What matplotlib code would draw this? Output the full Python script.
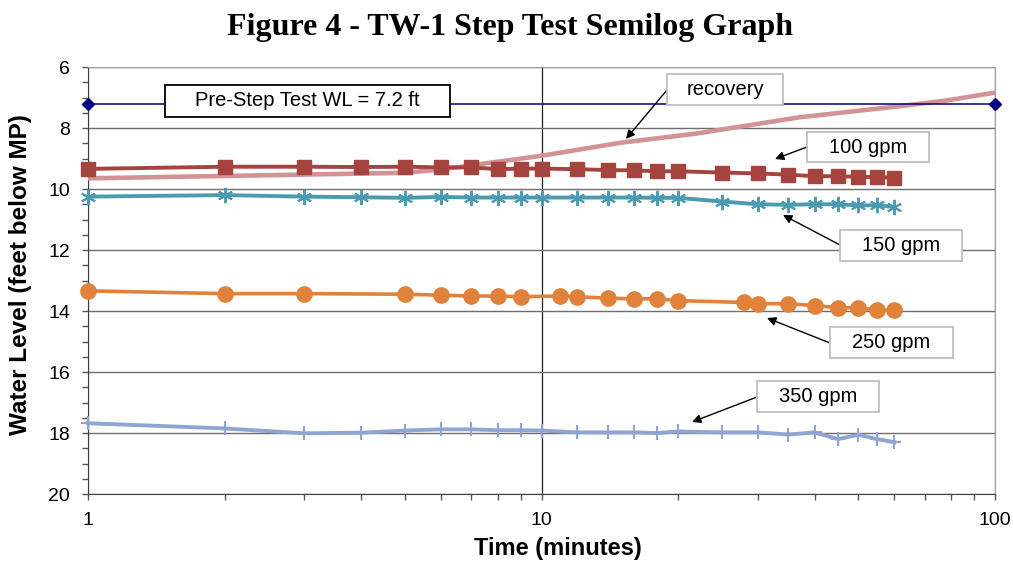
import numpy as np
import matplotlib
matplotlib.use('Agg')
import matplotlib.pyplot as plt
from matplotlib.patches import Rectangle
from matplotlib.ticker import FixedLocator, NullFormatter

plt.rcParams['font.family'] = ['Liberation Sans', 'DejaVu Sans']

# step test readings, depth to water (ft below MP) vs elapsed minutes
t_pre = [1, 100]
wl_pre = [7.2, 7.2]

t_100 = [1, 2, 3, 4, 5, 6, 7, 8, 9, 10, 12, 14, 16, 18, 20, 25, 30, 35, 40, 45, 50, 55, 60]
wl_100 = [9.34, 9.27, 9.27, 9.28, 9.27, 9.29, 9.29, 9.35, 9.33, 9.33, 9.35, 9.38, 9.39, 9.42,
          9.42, 9.46, 9.49, 9.53, 9.58, 9.58, 9.60, 9.61, 9.63]

t_150 = [1, 2, 3, 4, 5, 6, 7, 8, 9, 10, 12, 14, 16, 18, 20, 25, 30, 35, 40, 45, 50, 55, 60]
wl_150 = [10.25, 10.20, 10.25, 10.27, 10.29, 10.26, 10.28, 10.28, 10.28, 10.28, 10.28, 10.28,
          10.28, 10.29, 10.29, 10.41, 10.50, 10.52, 10.50, 10.50, 10.54, 10.53, 10.59]

t_250 = [1, 2, 3, 5, 6, 7, 8, 9, 11, 12, 14, 16, 18, 20, 28, 30, 35, 40, 45, 50, 55, 60]
wl_250 = [13.34, 13.43, 13.43, 13.45, 13.48, 13.51, 13.51, 13.53, 13.51, 13.53, 13.58, 13.60,
          13.60, 13.66, 13.72, 13.76, 13.76, 13.82, 13.89, 13.89, 13.97, 13.98]

t_350 = [1, 2, 3, 4, 5, 6, 7, 8, 9, 10, 12, 14, 16, 18, 20, 25, 30, 35, 40, 45, 50, 55, 60]
wl_350 = [17.68, 17.85, 18.01, 17.99, 17.92, 17.88, 17.88, 17.91, 17.91, 17.92, 17.98, 17.98,
          17.98, 18.00, 17.95, 17.98, 17.98, 18.05, 17.98, 18.20, 18.06, 18.20, 18.30]

t_rec = [1, 5, 6, 10, 15, 22, 37, 62, 78, 100]
wl_rec = [9.65, 9.47, 9.36, 8.91, 8.48, 8.18, 7.65, 7.28, 7.10, 6.84]

y_ticks = [6, 8, 10, 12, 14, 16, 18, 20]
x_ticks = [1, 10, 100]

W, H = 1013, 564
fig = plt.figure(figsize=(W / 100, H / 100), dpi=100)
ax = fig.add_axes([88 / W, 1 - 494 / H, 907 / W, 427 / H])

ax.set_xscale('log')
ax.set_xlim(1, 100)
ax.set_ylim(20, 6)

# grid
ax.yaxis.set_major_locator(FixedLocator(y_ticks))
ax.yaxis.set_minor_locator(FixedLocator(np.arange(6, 20.01, 0.5)))
ax.xaxis.set_major_locator(FixedLocator(x_ticks))
ax.xaxis.set_minor_locator(FixedLocator([2, 3, 4, 5, 6, 7, 8, 9, 20, 30, 40, 50, 60, 70, 80, 90]))
ax.xaxis.set_minor_formatter(NullFormatter())
ax.set_xticklabels(['1', '10', '100'])
ax.grid(axis='y', which='major', color='#6e6e6e', lw=1.0)
ax.grid(axis='x', which='major', color='#202020', lw=0.9)
ax.set_axisbelow(True)

ax.tick_params(which='both', direction='out', length=4, width=1, color='#555555',
               labelsize=14, pad=9)
ax.tick_params(which='minor', length=4)
for s in ['left', 'bottom']:
    ax.spines[s].set_color('#404040')
for s in ['top', 'right']:
    ax.spines[s].set_color('#a0a0a0')

# series
ax.plot(t_rec, wl_rec, color='#d39394', lw=3.3, zorder=3, clip_on=False,
        solid_capstyle='butt')
ax.plot(t_pre, wl_pre, color='#000080', lw=1.1, marker='D', ms=6, zorder=4, clip_on=False)
ax.plot(t_100, wl_100, color='#a5443f', lw=2.8, marker='s', ms=10.5, zorder=4, clip_on=False)
ax.plot(t_150, wl_150, color='#4a9bb0', lw=2.8, marker=(6, 2, 0), ms=11, mew=1.4,
        zorder=4, clip_on=False)
ax.plot(t_250, wl_250, color='#e0823a', lw=2.6, marker='o', ms=11, zorder=4, clip_on=False)
ax.plot(t_350, wl_350, color='#8ea6d1', lw=2.8, marker='+', ms=10, mew=1.5, zorder=4,
        clip_on=False)

ax.set_xlabel('Time (minutes)', fontsize=17, fontweight='bold')
ax.set_ylabel('Water Level (feet below MP)', fontsize=17.5, fontweight='bold')
ax.xaxis.set_label_coords(0.518, -0.100)
ax.yaxis.set_label_coords(-0.062, 0.515)

fig.text(0.503, 1 - 27 / H, 'Figure 4 - TW-1 Step Test Semilog Graph',
         family='Liberation Serif', fontweight='bold', fontsize=23, ha='center', va='center')


def fx(px):
    return px / W


def fy(py):
    return 1 - py / H


# callout boxes: (label, x0, x1, y0, y1, edge colour, arrow start, arrow tip) in pixels
callouts = [
    ('Pre-Step Test WL = 7.2 ft', 165, 450, 85, 117, 'black', None, None),
    ('recovery', 667, 783, 74, 105, '#bfbfbf', (667, 90), (626, 139)),
    ('100 gpm', 807, 929, 132, 162, '#bfbfbf', (807, 147), (775, 159)),
    ('150 gpm', 840, 962, 230, 261, '#bfbfbf', (840, 245), (783, 215)),
    ('250 gpm', 830, 953, 327, 358, '#bfbfbf', (830, 343), (767, 318)),
    ('350 gpm', 757, 879, 381, 412, '#bfbfbf', (757, 397), (692, 422)),
]
for label, x0, x1, y0, y1, ec, start, tip in callouts:
    fig.patches.append(Rectangle((fx(x0), fy(y1)), fx(x1 - x0), (y1 - y0) / H,
                                 transform=fig.transFigure, facecolor='white',
                                 edgecolor=ec, lw=1.3, zorder=5))
    fig.text(fx((x0 + x1) / 2), fy((y0 + y1) / 2), label, fontsize=14.5,
             ha='center', va='center', zorder=6)
    if start is not None:
        ax.annotate('', xy=(fx(tip[0]), fy(tip[1])), xycoords='figure fraction',
                    xytext=(fx(start[0]), fy(start[1])), textcoords='figure fraction',
                    arrowprops=dict(arrowstyle='-|>', color='black', lw=1.0,
                                    mutation_scale=13, shrinkA=0, shrinkB=0))

plt.savefig('out.png', dpi=100)
